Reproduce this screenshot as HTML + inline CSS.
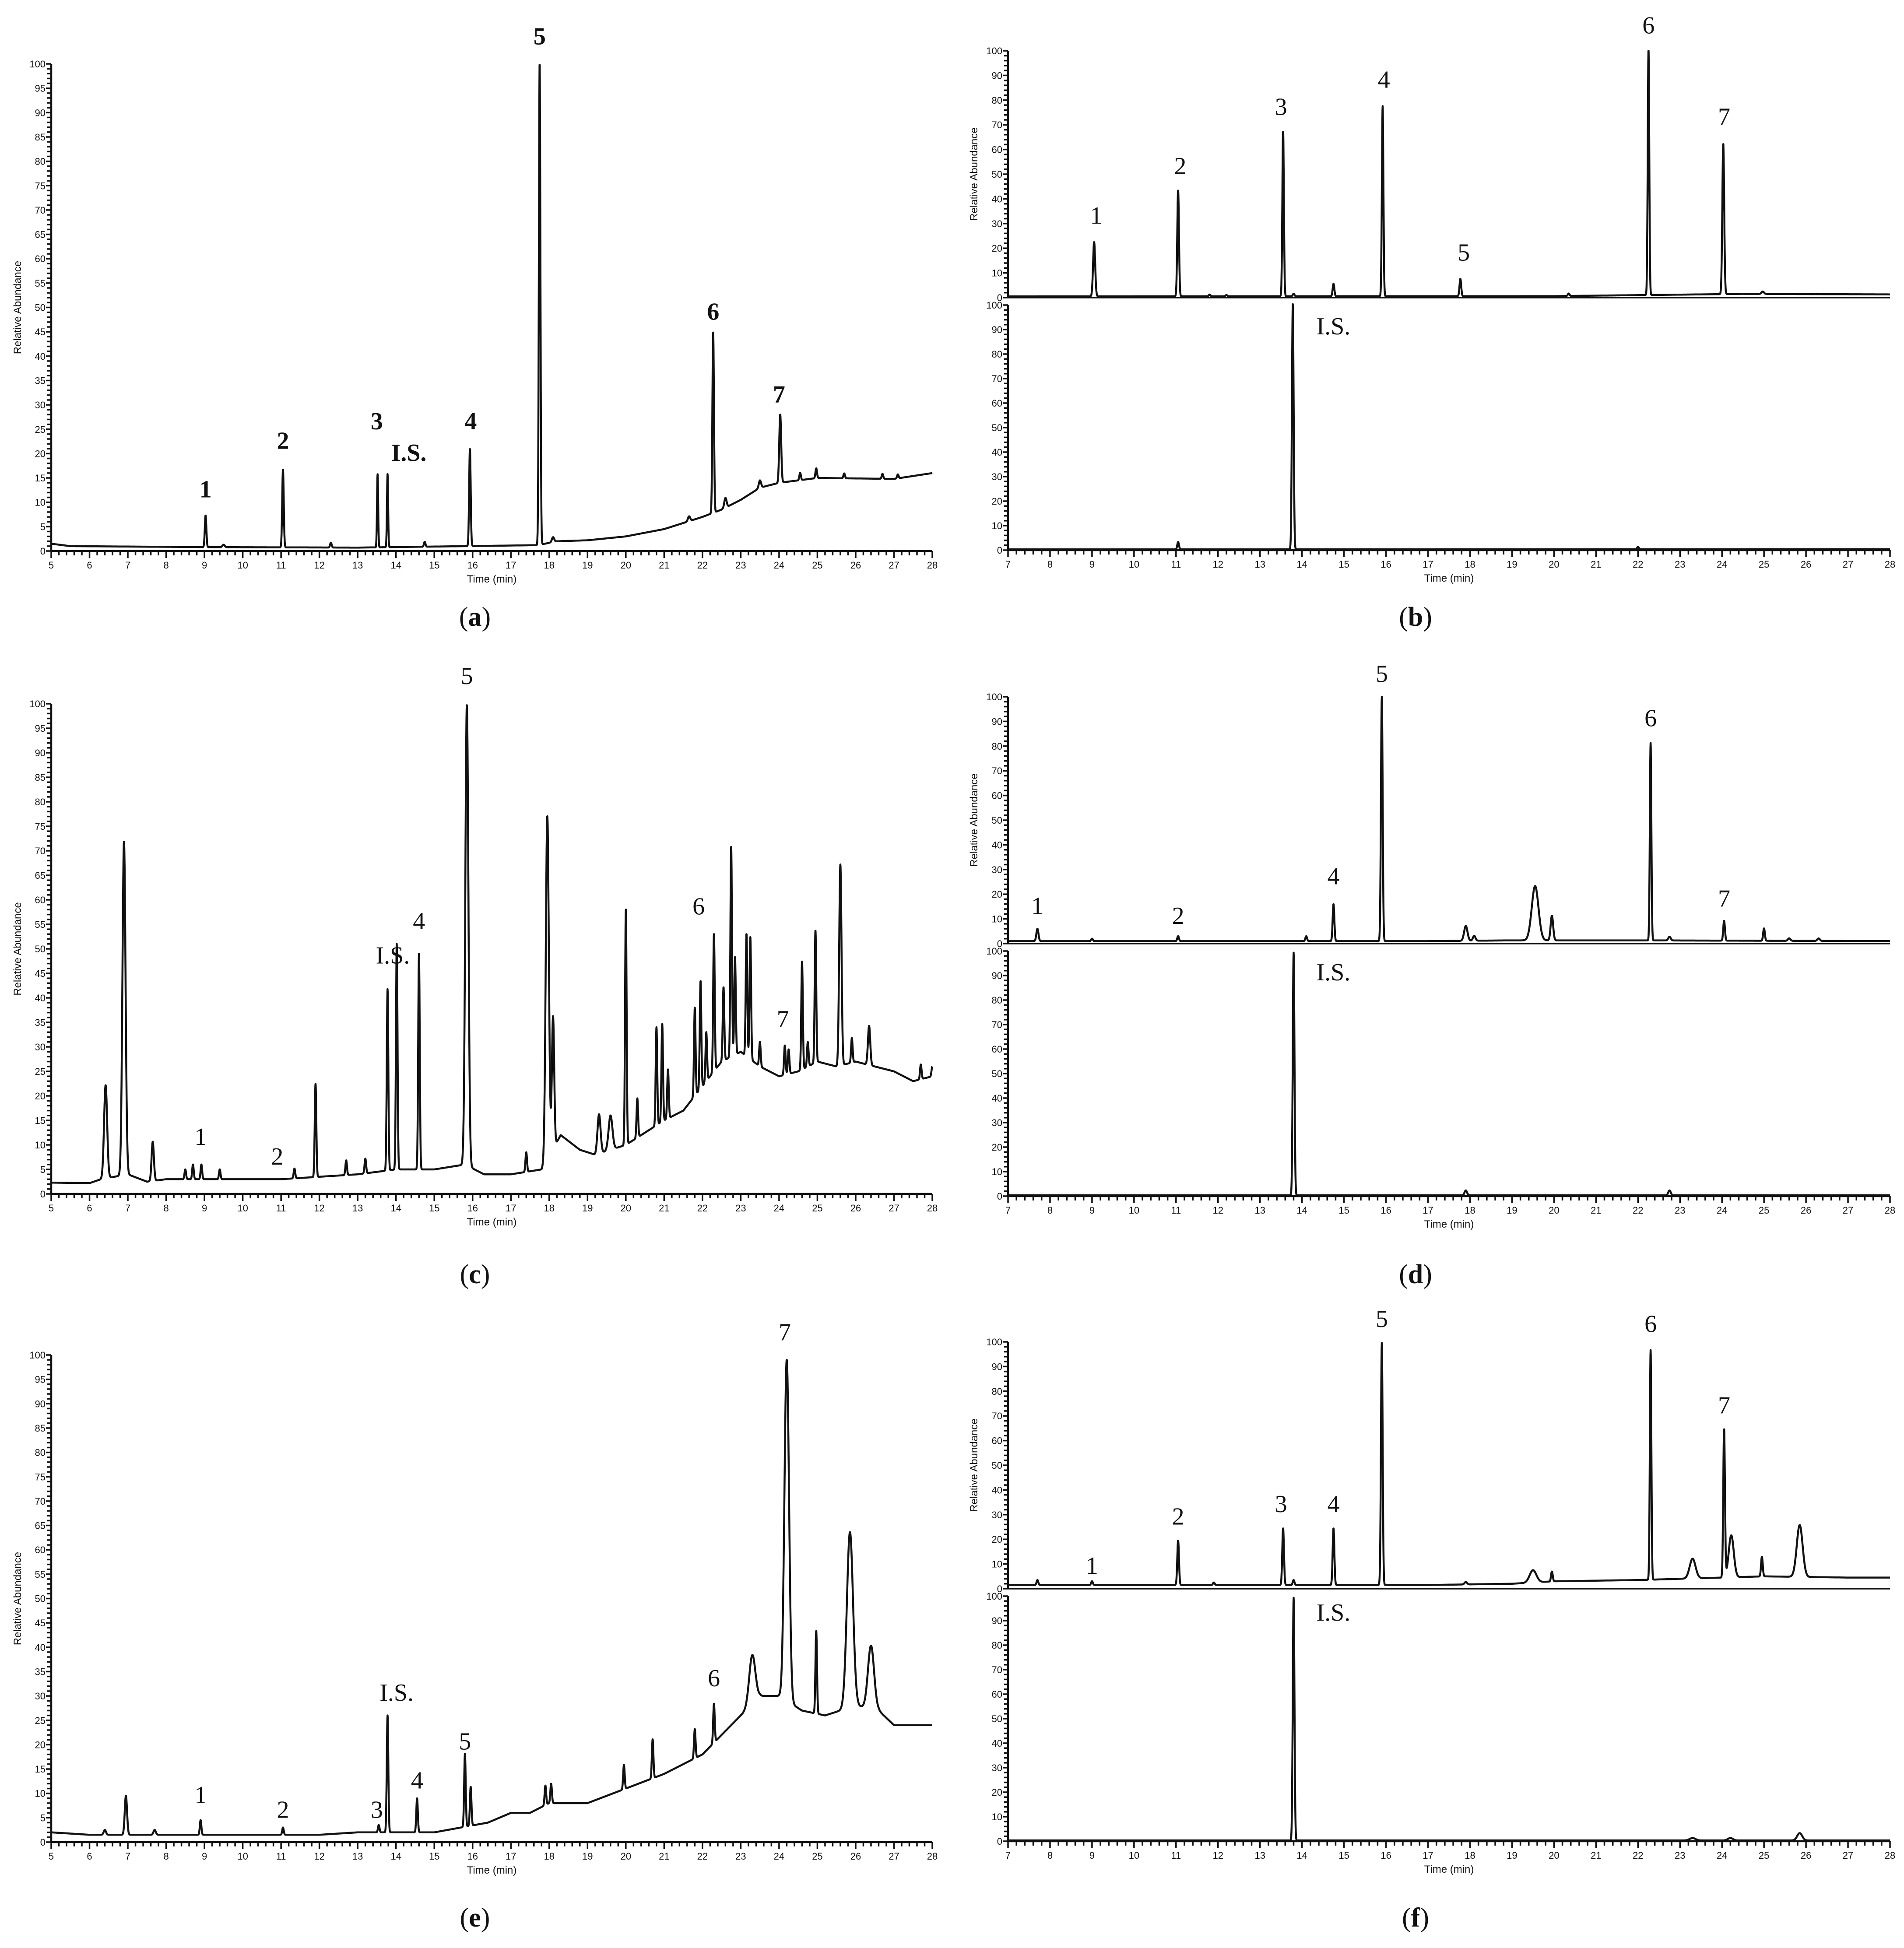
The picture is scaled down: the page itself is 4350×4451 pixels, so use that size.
<!DOCTYPE html>
<html><head><meta charset="utf-8">
<style>
html,body{margin:0;padding:0;background:#fff;}
svg{display:block;}
.tk{font-family:"Liberation Sans",sans-serif;font-size:22px;fill:#111;}
.ax{font-family:"Liberation Sans",sans-serif;font-size:24px;fill:#111;}
.pk{font-family:"Liberation Serif",serif;font-size:56px;fill:#111;}
.cap{font-family:"Liberation Serif",serif;font-size:62px;fill:#111;}
</style></head>
<body>
<svg id="fig" width="4350" height="4451" viewBox="0 0 4350 4451" xmlns="http://www.w3.org/2000/svg"></svg>
<script>
// ---------- data (time in min, relative abundance) ----------
const aBaseT=[5,5.5,9,13,17.7,18.2,19,20,21,22,22.5,23,23.5,24,25,27,28];
const aBaseV=[1.5,1,0.8,0.7,1.2,2,2.2,3,4.5,7,8.5,10.5,13,14,15,14.8,16];
const aPeakT=[9.03,9.5,11.05,12.3,13.52,13.78,14.75,15.93,17.75,18.1,21.65,22.28,22.6,23.5,24.03,24.55,24.97,25.7,26.7,27.1];
const aPeakH=[6.5,0.5,16,1,15,15,1,20,99,1,1,37,2,1.5,14,1.5,2,1,1,0.8];
const aPeakW=[0.02,0.03,0.02,0.02,0.015,0.015,0.02,0.02,0.02,0.03,0.03,0.02,0.03,0.03,0.025,0.02,0.02,0.02,0.02,0.02];
const aLabels=["1","2","3","I.S.","4","5","6","7"];
const aLabT=[9.03,11.05,13.5,14.1,15.95,17.75,22.28,24.0];
const aLabV=[11,21,25,18.5,25,104,47.5,30.5];

const bUBaseT=[7,20,22,24.5,28];
const bUBaseV=[0.5,0.6,1,1.5,1.3];
const bUPeakT=[9.05,11.05,11.8,12.2,13.55,13.8,14.75,15.92,17.77,20.35,22.25,24.03,24.97];
const bUPeakH=[22,43,0.7,0.5,67,1,5,77,7,1,99.5,61,1];
const bUPeakW=[0.025,0.02,0.02,0.02,0.018,0.02,0.02,0.018,0.02,0.02,0.018,0.022,0.03];
const bULabels=["1","2","3","4","5","6","7"];
const bULabT=[9.1,11.1,13.5,15.95,17.85,22.25,24.05];
const bULabV=[30,50,74,85,15,107,70];
const bLBaseT=[7,28];
const bLBaseV=[0.3,0.4];
const bLPeakT=[11.05,13.78,22.0];
const bLPeakH=[3,100,1];
const bLPeakW=[0.02,0.02,0.02];
const bLLabels=["I.S."];
const bLLabT=[14.55];
const bLLabV=[88];

const cBaseT=[5,6,6.3,7,7.5,8,9,10,11,12,13,14,15,15.8,16.3,17,17.8,18.3,18.8,19.2,20,21,21.5,22,22.5,23,23.5,24,24.5,25,25.5,26,27,27.5,28];
const cBaseV=[2.3,2.2,3,4,2.5,3,3,3,3,3.5,4,5,5,6,4,4,5,12,9,8,10,15,17,22,27,29,26,24,25,27,26,27,25,23,24];
const cPeakT=[6.42,6.9,7.65,8.5,8.7,8.92,9.4,11.35,11.9,12.7,13.2,13.78,14.02,14.6,15.85,17.4,17.95,18.1,19.3,19.6,20.0,20.3,20.8,20.95,21.1,21.8,21.95,22.1,22.3,22.55,22.75,22.85,23.15,23.25,23.5,24.15,24.25,24.6,24.75,24.95,25.6,25.9,26.35,27.7,28.0];
const cPeakH=[19,68,8,2,3,3,2,2,19,3,3,37,46,44,94,4,70,27,8,7,48,8,20,20,10,18,22,10,28,15,43,20,25,25,5,6,5,22,5,27,41,5,8,3,2];
const cPeakW=[0.04,0.04,0.03,0.02,0.02,0.02,0.02,0.02,0.02,0.02,0.02,0.02,0.02,0.02,0.04,0.02,0.04,0.03,0.04,0.05,0.02,0.02,0.02,0.02,0.02,0.02,0.02,0.02,0.02,0.02,0.02,0.02,0.02,0.02,0.02,0.02,0.02,0.02,0.02,0.02,0.03,0.02,0.03,0.02,0.02];
const cLabels=["1","2","I.S.","4","5","6","7"];
const cLabT=[8.9,10.9,13.7,14.6,15.85,21.9,24.1];
const cLabV=[10,6,47,54,104,57,34];

const dUBaseT=[7,17,19,22,28];
const dUBaseV=[1,1,1.3,1.3,1];
const dUPeakT=[7.7,9,11.05,14.1,14.75,15.9,17.9,18.1,19.55,19.95,22.3,22.75,24.05,25,25.6,26.3];
const dUPeakH=[5,1,2,2,15,99,6,2,22,10,80,1.5,8,5,1,1];
const dUPeakW=[0.025,0.02,0.02,0.02,0.02,0.02,0.04,0.03,0.08,0.03,0.018,0.03,0.02,0.02,0.03,0.03];
const dULabels=["1","2","4","5","6","7"];
const dULabT=[7.7,11.05,14.75,15.9,22.3,24.05];
const dULabV=[12,8,24,106,88,15];
const dLBaseT=[7,28];
const dLBaseV=[0.3,0.3];
const dLPeakT=[13.8,17.9,22.75];
const dLPeakH=[99,2,2];
const dLPeakW=[0.02,0.03,0.03];
const dLLabels=["I.S."];
const dLLabT=[14.55];
const dLLabV=[88];

const eBaseT=[5,6,9,12,13,14,15,16.4,17,17.5,18,19,20,21,22,22.5,23,23.5,24,24.6,25.2,26,26.6,27,28];
const eBaseV=[2,1.5,1.5,1.5,2,2,2,4,6,6,8,8,11,14,18,22,26,30,30,27,26,28,27,24,24];
const ePeakT=[6.4,6.95,7.7,8.9,11.05,13.55,13.78,14.55,15.8,15.95,17.9,18.05,19.95,20.7,21.8,22.3,23.3,24.2,24.97,25.85,26.4];
const ePeakH=[1,8,1,3,1.5,1.5,24,7,15,8,4,4,5,8,6,8,10,70,17,36,13];
const ePeakW=[0.03,0.03,0.03,0.02,0.02,0.02,0.02,0.02,0.02,0.02,0.02,0.02,0.02,0.02,0.02,0.02,0.08,0.06,0.02,0.08,0.08];
const eLabels=["1","2","3","I.S.","4","5","6","7"];
const eLabT=[8.9,11.05,13.5,13.8,14.55,15.8,22.3,24.15];
const eLabV=[8,5,5,29,11,19,32,103];

const fUBaseT=[7,17,19,20,22,23,24,25,27,28];
const fUBaseV=[1.5,1.5,2,3,3.5,4,4.5,5,4.5,4.5];
const fUPeakT=[7.7,9,11.05,11.9,13.55,13.8,14.75,15.9,17.9,19.5,19.95,22.3,23.3,24.05,24.22,24.95,25.85];
const fUPeakH=[2,1.5,18,1,23,2,23,98,1,5,4,93,8,60,17,8,21];
const fUPeakW=[0.02,0.02,0.02,0.02,0.02,0.02,0.02,0.02,0.03,0.08,0.02,0.018,0.07,0.02,0.06,0.02,0.07];
const fULabels=["1","2","3","4","5","6","7"];
const fULabT=[9,11.05,13.5,14.75,15.9,22.3,24.05];
const fULabV=[6,26,31,31,106,104,71];
const fLBaseT=[7,28];
const fLBaseV=[0.3,0.3];
const fLPeakT=[13.8,23.3,24.2,25.85];
const fLPeakH=[99,1,1,3];
const fLPeakW=[0.02,0.07,0.06,0.06];
const fLLabels=["I.S."];
const fLLabT=[14.55];
const fLLabV=[90];

// ---------- helpers ----------
const NS="http://www.w3.org/2000/svg";
const svg=document.getElementById('fig');
function mk(tag,attrs,parent){const e=document.createElementNS(NS,tag);for(const k in attrs)e.setAttribute(k,attrs[k]);(parent||svg).appendChild(e);return e;}
function interp(ts,vs,t){if(t<=ts[0])return vs[0];for(let i=1;i<ts.length;i++){if(t<=ts[i]){const f=(t-ts[i-1])/(ts[i]-ts[i-1]);return vs[i-1]+f*(vs[i]-vs[i-1]);}}return vs[vs.length-1];}

function drawAxes(g,P,major,minor,showX){
  const sx=t=>P.x0+(t-P.t0)/(P.t1-P.t0)*(P.x1-P.x0);
  const sy=v=>P.y0-v/100*(P.y0-P.y100);
  let a=mk('line',{x1:P.x0,y1:P.y0,x2:P.x0,y2:P.y100,stroke:'#111','stroke-width':4.5},g);
  
  
  for(let v=0;v<=100;v+=minor){
    const isM=(v%major===0);
    mk('line',{x1:P.x0-(isM?12:9),y1:sy(v),x2:P.x0,y2:sy(v),stroke:'#111','stroke-width':3.5},g);
    if(isM){const t=mk('text',{x:P.x0-13,y:sy(v)+8,'text-anchor':'end',class:'tk'},g);t.textContent=v;
      
      }
  }
  if(showX){
    let b=mk('line',{x1:P.x0,y1:P.y0,x2:P.x1,y2:P.y0,stroke:'#111','stroke-width':4.5},g);
    
    
    for(let k=P.t0*5;k<=P.t1*5;k++){
      const t=k/5, isM=(k%5===0);
      mk('line',{x1:sx(t),y1:P.y0,x2:sx(t),y2:P.y0+(isM?16:10),stroke:'#111','stroke-width':3.5},g);
      if(isM){const tx=mk('text',{x:sx(t),y:P.y0+40,'text-anchor':'middle',class:'tk'},g);tx.textContent=t;
        
        }
    }
    const xt=mk('text',{x:(P.x0+P.x1)/2,y:P.y0+72,'text-anchor':'middle',class:'ax'},g);xt.textContent='Time (min)';
    
    
  }
}
function drawTrace(g,P,bT,bV,pT,pH,pW,labs,lT,lV,bold){
  const sx=t=>P.x0+(t-P.t0)/(P.t1-P.t0)*(P.x1-P.x0);
  const sy=v=>P.y0-v/100*(P.y0-P.y100);
  let d='';
  for(let t=P.t0;t<=P.t1+1e-9;t+=0.004){
    let v=interp(bT,bV,t);
    for(let i=0;i<pT.length;i++){const z=(t-pT[i])/pW[i];if(Math.abs(z)<8)v+=pH[i]*Math.exp(-0.5*z*z);}
    d+=(d?'L':'M')+sx(t).toFixed(1)+' '+sy(v).toFixed(1);
  }
  const p=mk('path',{d:d,fill:'none',stroke:'#111','stroke-width':4.5,'stroke-linejoin':'round'},g);
  
  
  for(let i=0;i<labs.length;i++){
    const t=mk('text',{x:sx(lT[i]),y:sy(lV[i]),'text-anchor':labs[i]==='I.S.'?'start':'middle',class:'pk','font-weight':bold?'bold':'normal'},g);
    if(labs[i]==='I.S.')t.setAttribute('x',sx(lT[i])-20);
    t.textContent=labs[i];
    
    
  }
}
function yTitle(g,x,y){
  const t=mk('text',{x:x,y:y,'text-anchor':'middle',class:'ax',transform:'rotate(-90 '+x+' '+y+')'},g);
  t.textContent='Relative Abundance';
  
  
}
function caption(g,x,y,letter){
  const t=mk('text',{x:x,y:y,'text-anchor':'middle',class:'cap'},g);
  t.appendChild(document.createTextNode('('));
  const b=mk('tspan',{'font-weight':'bold'},t);b.textContent=letter;
  t.appendChild(document.createTextNode(')'));
  
  
}
function group(name){const g=mk('g',{});return g;}

// ---------- single panels a, c, e ----------
const leftPanels=[
  {name:'panel-a',y0:1259,y100:146,cap:'a',capY:1430,data:[aBaseT,aBaseV,aPeakT,aPeakH,aPeakW,aLabels,aLabT,aLabV],bold:true},
  {name:'panel-c',y0:2728,y100:1608,cap:'c',capY:2932,data:[cBaseT,cBaseV,cPeakT,cPeakH,cPeakW,cLabels,cLabT,cLabV],bold:false},
  {name:'panel-e',y0:4209,y100:3096,cap:'e',capY:4402,data:[eBaseT,eBaseV,ePeakT,ePeakH,ePeakW,eLabels,eLabT,eLabV],bold:false}
];
leftPanels.forEach(L=>{
  const g=group(L.name);
  const P={x0:117,x1:2130,t0:5,t1:28,y0:L.y0,y100:L.y100};
  drawAxes(g,P,5,1,true);
  const D=L.data;
  drawTrace(g,P,D[0],D[1],D[2],D[3],D[4],D[5],D[6],D[7],L.bold);
  yTitle(g,48,(L.y0+L.y100)/2);
  caption(g,1085,L.capY,L.cap);
});

// ---------- stacked panels b, d, f ----------
const rightPanels=[
  {name:'panel-b',off:0,cap:'b',capY:1430,up:[bUBaseT,bUBaseV,bUPeakT,bUPeakH,bUPeakW,bULabels,bULabT,bULabV],lo:[bLBaseT,bLBaseV,bLPeakT,bLPeakH,bLPeakW,bLLabels,bLLabT,bLLabV]},
  {name:'panel-d',off:1476,cap:'d',capY:2932,up:[dUBaseT,dUBaseV,dUPeakT,dUPeakH,dUPeakW,dULabels,dULabT,dULabV],lo:[dLBaseT,dLBaseV,dLPeakT,dLPeakH,dLPeakW,dLLabels,dLLabT,dLLabV]},
  {name:'panel-f',off:2950,cap:'f',capY:4402,up:[fUBaseT,fUBaseV,fUPeakT,fUPeakH,fUPeakW,fULabels,fULabT,fULabV],lo:[fLBaseT,fLBaseV,fLPeakT,fLPeakH,fLPeakW,fLLabels,fLLabT,fLLabV]}
];
rightPanels.forEach(R=>{
  const g=group(R.name);
  const PU={x0:2303,x1:4318,t0:7,t1:28,y0:680+R.off,y100:116+R.off};
  const PL={x0:2303,x1:4318,t0:7,t1:28,y0:1257+R.off,y100:697+R.off};
  drawAxes(g,PU,10,2,false);
  mk('line',{x1:PU.x0,y1:PU.y0,x2:PU.x1,y2:PU.y0,stroke:'#111','stroke-width':3.5},g);
  drawAxes(g,PL,10,2,true);
  let U=R.up, Lo=R.lo;
  drawTrace(g,PU,U[0],U[1],U[2],U[3],U[4],U[5],U[6],U[7],false);
  drawTrace(g,PL,Lo[0],Lo[1],Lo[2],Lo[3],Lo[4],Lo[5],Lo[6],Lo[7],false);
  yTitle(g,2233,(PU.y0+PU.y100)/2);
  caption(g,3234,R.capY,R.cap);
});
</script>
</body></html>
